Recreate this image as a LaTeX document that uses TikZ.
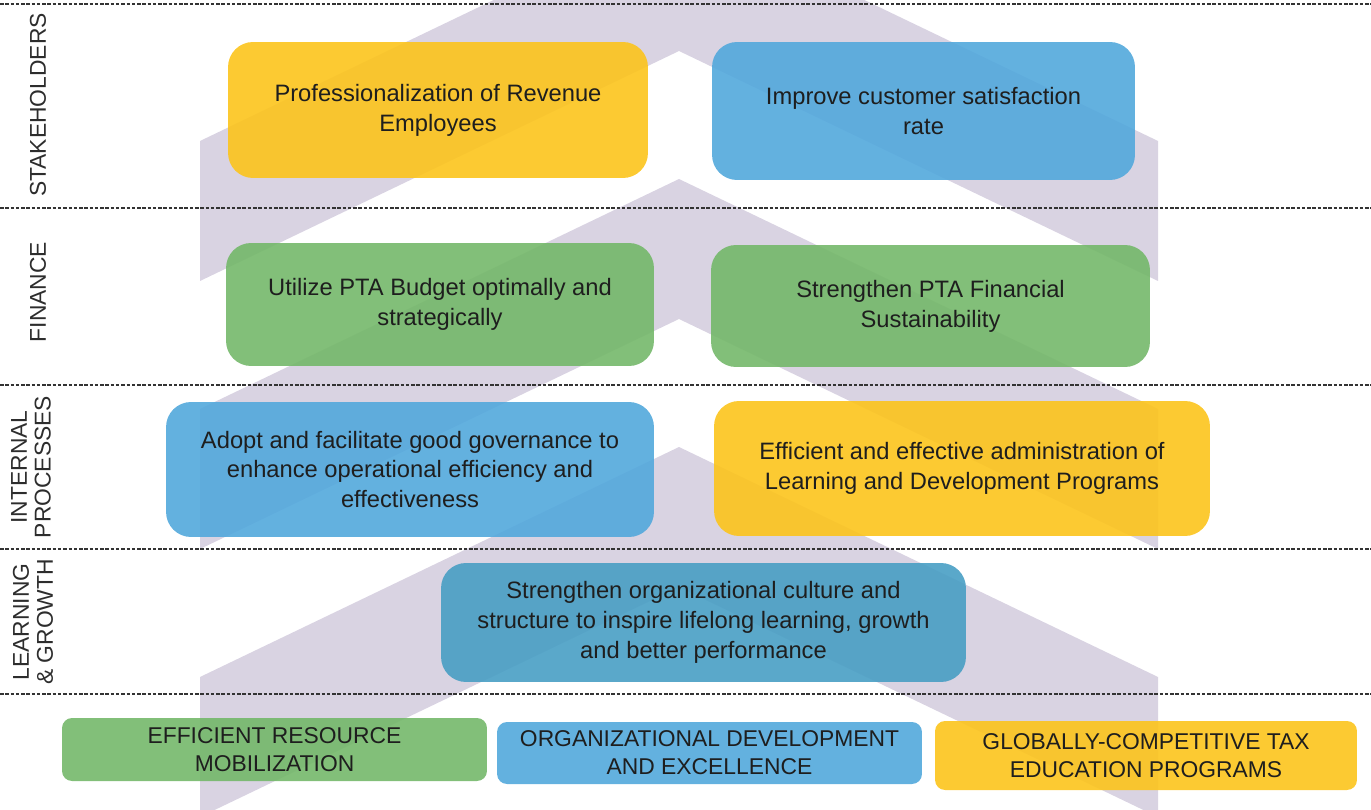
\documentclass[tikz,border=0pt]{standalone}
\usepackage{fontspec}
\setmainfont{Liberation Sans}
\usepackage{tikz}

\definecolor{lavender}{RGB}{217,211,226}
\definecolor{boxyellow}{RGB}{252,196,28}
\definecolor{boxblue}{RGB}{82,168,220}
\definecolor{boxgreen}{RGB}{116,184,106}
\definecolor{boxteal}{RGB}{72,158,196}
\definecolor{txt}{RGB}{30,30,30}
\definecolor{lbl}{RGB}{45,45,45}

\begin{document}
\begin{tikzpicture}[x=0.02cm,y=-0.02cm,
	goalbox/.style={rounded corners=0.5cm, fill opacity=0.9, text opacity=1, inner sep=0pt, align=center, text=txt, font=\fontsize{13.5}{17}\selectfont},
	basebox/.style={goalbox, rounded corners=0.2cm, font=\fontsize{13}{16}\selectfont},
	rowlabel/.style={rotate=90, align=center, text=lbl, font=\fontsize{13}{13.6}\selectfont},
	separator/.style={gray!40!black, line width=0.8pt, dash pattern=on 2pt off 1pt}]
	%Picture size in pixels of the original, 1px = 0.02cm
	\useasboundingbox (0,0) rectangle (1371,810);

	%Chevron parameters
	%sides at \xl and \xr, apex at \xc, drop of the legs \d, thickness \t
	\pgfmathsetmacro{\xl}{200}
	\pgfmathsetmacro{\xr}{1158}
	\pgfmathsetmacro{\xc}{679}
	\pgfmathsetmacro{\d}{230}
	\pgfmathsetmacro{\t}{140}

	%The background chevrons, apex at y = -89, 179, 447
	\begin{scope}
	\clip (0,0) rectangle (1371,810);
	\fill[lavender] (\xl,-89+\d) -- (\xc,-89) -- (\xr,-89+\d) -- (\xr,-89+\d+\t) -- (\xc,-89+\t) -- (\xl,-89+\d+\t) -- cycle;
	\fill[lavender] (\xl,179+\d) -- (\xc,179) -- (\xr,179+\d) -- (\xr,179+\d+\t) -- (\xc,179+\t) -- (\xl,179+\d+\t) -- cycle;
	\fill[lavender] (\xl,447+\d) -- (\xc,447) -- (\xr,447+\d) -- (\xr,447+\d+\t) -- (\xc,447+\t) -- (\xl,447+\d+\t) -- cycle;
	\end{scope}

	%Row separators
	\draw[separator] (0,4) -- (1371,4);
	\draw[separator] (0,208) -- (1371,208);
	\draw[separator] (0,385) -- (1371,385);
	\draw[separator] (0,549) -- (1371,549);
	\draw[separator] (0,694) -- (1371,694);

	%Row labels
	\node[rowlabel] (stakeholders) at (38,105) {STAKEHOLDERS};
	\node[rowlabel] (finance) at (38,292) {FINANCE};
	\node[rowlabel] (processes) at (31,467) {INTERNAL\\PROCESSES};
	\node[rowlabel] (learning) at (33,622) {LEARNING\\\& GROWTH};

	%Stakeholders
	\node[goalbox, fill=boxyellow, minimum width=8.4cm, minimum height=2.72cm] (stakeA) at (438,110) {Professionalization of Revenue\\Employees};
	\node[goalbox, fill=boxblue, minimum width=8.46cm, minimum height=2.76cm] (stakeB) at (923.5,111) {Improve customer satisfaction\\rate};

	%Finance
	\node[goalbox, fill=boxgreen, minimum width=8.56cm, minimum height=2.46cm] (finA) at (440,304.5) {Utilize PTA Budget optimally and\\strategically};
	\node[goalbox, fill=boxgreen, minimum width=8.78cm, minimum height=2.44cm] (finB) at (930.5,306) {Strengthen PTA Financial\\Sustainability};

	%Internal processes
	\node[goalbox, fill=boxblue, minimum width=9.76cm, minimum height=2.7cm] (procA) at (410,469.5) {Adopt and facilitate good governance to\\enhance operational efficiency and\\effectiveness};
	\node[goalbox, fill=boxyellow, minimum width=9.92cm, minimum height=2.7cm] (procB) at (962,468.5) {Efficient and effective administration of\\Learning and Development Programs};

	%Learning & growth
	\node[goalbox, fill=boxteal, minimum width=10.5cm, minimum height=2.38cm] (learn) at (703.5,622.5) {Strengthen organizational culture and\\structure to inspire lifelong learning, growth\\and better performance};

	%Base pillars
	\node[basebox, fill=boxgreen, minimum width=8.5cm, minimum height=1.26cm] (pillarA) at (274.5,749.5) {EFFICIENT RESOURCE\\MOBILIZATION};
	\node[basebox, fill=boxblue, minimum width=8.5cm, minimum height=1.24cm] (pillarB) at (709.5,753) {ORGANIZATIONAL DEVELOPMENT\\AND EXCELLENCE};
	\node[basebox, fill=boxyellow, minimum width=8.44cm, minimum height=1.38cm] (pillarC) at (1146,755.5) {GLOBALLY-COMPETITIVE TAX\\EDUCATION PROGRAMS};

\end{tikzpicture}
\end{document}
